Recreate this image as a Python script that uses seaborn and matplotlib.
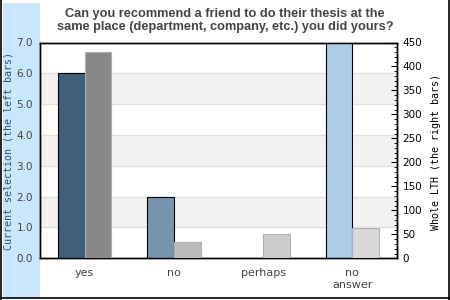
import matplotlib
matplotlib.use("Agg")
import matplotlib.pyplot as plt
from matplotlib.patches import Rectangle
from matplotlib.lines import Line2D
from matplotlib.ticker import MultipleLocator
import seaborn as sns
import pandas as pd

# ---- data ----
categories = ["yes", "no", "perhaps", "no\nanswer"]
current_values = [6, 2, 0, 7]
lth_values = [430, 34, 51, 63]
left_ticks = [0, 1, 2, 3, 4, 5, 6, 7]
right_ticks = [0, 50, 100, 150, 200, 250, 300, 350, 400, 450]
current_colors = ["#3f607a", "#7495b0", "#9dbdd8", "#abcde8"]
lth_colors = ["#888888", "#bbbbbb", "#cccccc", "#d8d8d8"]
title = ("Can you recommend a friend to do their thesis at the\n"
         "same place (department, company, etc.) you did yours?")

sns.set_style("white")
plt.rcParams["font.family"] = ["DejaVu Sans"]

W, H = 450, 300
fig = plt.figure(figsize=(4.5, 3), dpi=100)
fig.patch.set_facecolor("white")

# light blue strip on the left
fig.patches.append(Rectangle((3 / W, 1 - 297 / H), 37 / W, 294 / H,
                             transform=fig.transFigure, facecolor="#c8e6fc",
                             edgecolor="none", zorder=-5))
# outer frame (left, bottom, right)
for xs, ys in [([0.8 / W, 0.8 / W], [0, 1]),
               ([0, 1], [1 - 298 / H, 1 - 298 / H]),
               ([448.5 / W, 448.5 / W], [0, 1])]:
    fig.add_artist(Line2D(xs, ys, transform=fig.transFigure, color="black", lw=1.2))

ax = fig.add_axes([40 / W, 1 - 258.3 / H, 357 / W, 215.8 / H])

df_cur = pd.DataFrame({"category": categories, "value": current_values, "series": "Current"})
df_lth = pd.DataFrame({"category": categories, "value": lth_values, "series": "LTH"})
hue_order = ["Current", "LTH"]

sns.barplot(data=df_cur, x="category", y="value", hue="series", hue_order=hue_order,
            order=categories, dodge=True, width=0.6, saturation=1,
            palette={"Current": current_colors[0], "LTH": lth_colors[0]},
            edgecolor="black", linewidth=0.8, legend=False, ax=ax, zorder=3)
cur_bars = list(ax.patches)
for p, c in zip(cur_bars, current_colors):
    p.set_facecolor(c)

ax.set_ylim(left_ticks[0], left_ticks[-1])
ax.set_xlim(-0.5, len(categories) - 0.5)
# alternating bands + grid lines
for i, (lo, hi) in enumerate(zip(left_ticks[:-1], left_ticks[1:])):
    if i % 2 == 1:
        ax.axhspan(lo, hi, facecolor="#f2f2f2", edgecolor="none", zorder=0)
for t in left_ticks[1:-1]:
    ax.axhline(t, color="#e0e0e0", lw=1.0, zorder=1)

ax.set_yticks(left_ticks)
ax.set_yticklabels([f"{t:.1f}" for t in left_ticks])
ax.tick_params(axis="y", length=0, pad=5, labelsize=7.5, labelcolor="#444444")
ax.tick_params(axis="x", length=0, pad=7, labelsize=8, labelcolor="#444444")
ax.set_xlabel("")
ax.set_ylabel("")
for s in ax.spines.values():
    s.set_color("black")
    s.set_linewidth(1.0)

ax2 = ax.twinx()
sns.barplot(data=df_lth, x="category", y="value", hue="series", hue_order=hue_order,
            order=categories, dodge=True, width=0.6, saturation=1,
            palette={"Current": current_colors[0], "LTH": lth_colors[0]},
            edgecolor="#b0b0b0", linewidth=0.8, legend=False, ax=ax2, zorder=3)
for p, c in zip(ax2.patches, lth_colors):
    p.set_facecolor(c)
ax2.set_xlim(-0.5, len(categories) - 0.5)
ax2.set_ylim(right_ticks[0], right_ticks[-1])
ax2.set_yticks(right_ticks)
ax2.yaxis.set_minor_locator(MultipleLocator(10))
ax2.tick_params(axis="y", which="major", direction="in", length=4, width=0.8,
                color="black", pad=4, labelsize=7.5, labelcolor="black")
ax2.tick_params(axis="y", which="minor", direction="in", length=2, width=0.6, color="black")
ax2.set_ylabel("")
ax2.set_xlabel("")
for s in ax2.spines.values():
    s.set_color("black")
    s.set_linewidth(1.0)

# axis titles
fig.text(9 / W, 1 - 151.5 / H, "Current selection (the left bars)", rotation=90,
         ha="center", va="center", family="DejaVu Sans Mono", fontsize=7.2,
         color="#33506a")
fig.text(436 / W, 1 - 151.5 / H, "Whole LTH (the right bars)", rotation=90,
         ha="center", va="center", family="DejaVu Sans Mono", fontsize=7.2,
         color="black")

fig.text(225 / W, 1 - 20.5 / H, title, ha="center", va="center",
         family="Liberation Sans", weight="bold", fontsize=9.2, color="#444444",
         linespacing=1.1)

fig.savefig("out.png", dpi=100)
